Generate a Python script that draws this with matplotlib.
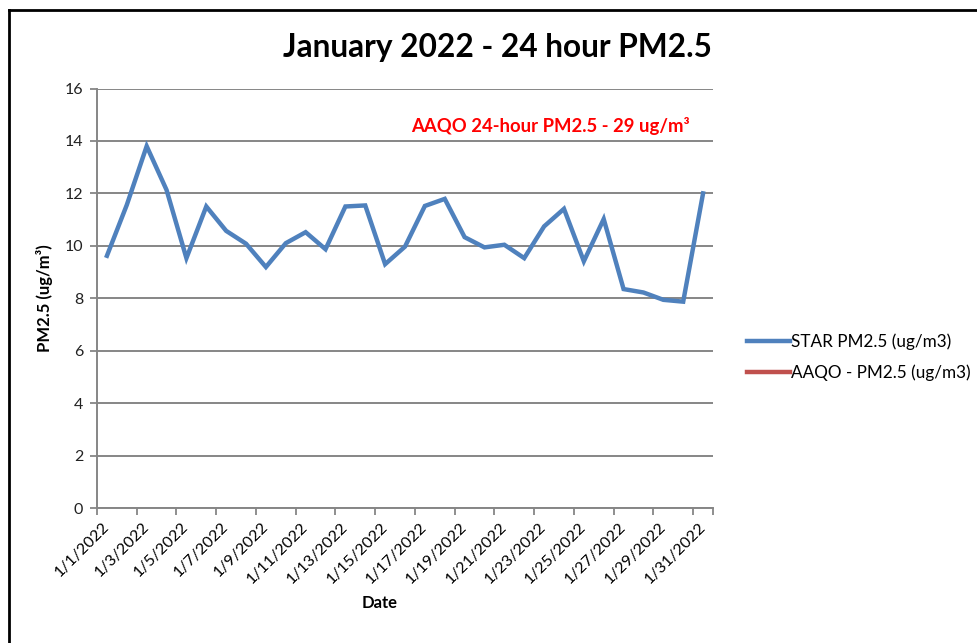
import matplotlib
matplotlib.use("Agg")
import matplotlib.pyplot as plt
from matplotlib.lines import Line2D

plt.rcParams['font.family'] = ['Lato', 'DejaVu Sans']

# data
dates = [f"1/{d}/2022" for d in range(1, 32)]
star_pm25 = [9.62, 11.56, 13.80, 12.13, 9.53, 11.50, 10.57, 10.08, 9.19, 10.10,
             10.52, 9.87, 11.50, 11.54, 9.30, 9.97, 11.52, 11.79, 10.33, 9.94,
             10.04, 9.53, 10.74, 11.41, 9.41, 11.02, 8.35, 8.22, 7.94, 7.87,
             12.00]
aaqo_pm25 = []  # series is listed in the legend but has no points drawn
y_ticks = [0, 2, 4, 6, 8, 10, 12, 14, 16]

blue = '#4F81BD'
red = '#C0504D'
gray = '#868686'

fig = plt.figure(figsize=(9.78, 6.43), dpi=100)
ax = fig.add_axes([97/978, 1 - 508/643, (713 - 97)/978, (508 - 88.5)/643])

x = list(range(len(dates)))
ax.plot(x, star_pm25, color=blue, lw=3.2, solid_joinstyle='miter',
        label='STAR PM2.5 (ug/m3)', zorder=3)
ax.plot(x[:len(aaqo_pm25)], aaqo_pm25, color=red, lw=3.2,
        label='AAQO - PM2.5 (ug/m3)', zorder=3)

ax.set_xlim(-0.5, len(dates) - 0.5)
ax.set_ylim(0, 16)
ax.set_yticks(y_ticks)
ax.yaxis.grid(True, color=gray, lw=1.4)
ax.set_axisbelow(True)

# category labels every second day, tick marks between categories
ax.set_xticks(x[::2])
ax.set_xticklabels(dates[::2], rotation=45, ha='right', va='center',
                   rotation_mode='anchor', fontsize=11.5)
ax.set_xticks([i - 0.5 for i in x[::2]] + [len(dates) - 0.5], minor=True)
ax.tick_params(axis='x', which='major', length=0, pad=12)
ax.tick_params(axis='x', which='minor', length=5, width=1.3, color=gray,
               direction='out')
ax.tick_params(axis='y', length=5, width=1.3, color=gray, labelsize=11.5,
               pad=5, direction='out')
for lab in ax.get_yticklabels():
    lab.set_color('#222222')

for side in ['top', 'right']:
    ax.spines[side].set_visible(False)
for side in ['left', 'bottom']:
    ax.spines[side].set_color(gray)
    ax.spines[side].set_linewidth(1.4)

fig.text(497/978, 1 - 47/643, 'January 2022 - 24 hour PM2.5', ha='center',
         va='center', fontsize=22.8, fontweight='bold')
fig.text(550/978, 1 - 126/643, 'AAQO 24-hour PM2.5 - 29 ug/m³', ha='center',
         va='center', fontsize=13.3, fontweight='bold', color='#FF0000')
fig.text(45/978, 1 - 298/643, 'PM2.5 (ug/m³)', ha='center', va='center',
         rotation=90, fontsize=12, fontweight='bold')
fig.text(380/978, 1 - 603/643, 'Date', ha='center', va='center',
         fontsize=12, fontweight='bold')

fig.legend(loc='center left', bbox_to_anchor=(732/978, 1 - 357/643),
           frameon=False, fontsize=12.3, handlelength=2.5, handletextpad=0.05,
           labelspacing=0.85)

# chart border (cropped on the right and bottom in the reference)
fig.add_artist(Line2D([8.5/978, 8.5/978], [0, 1 - 10/643], color='black',
                      lw=2, transform=fig.transFigure))
fig.add_artist(Line2D([8.5/978, 1], [1 - 10/643, 1 - 10/643], color='black',
                      lw=2, transform=fig.transFigure))

fig.savefig('out.png', dpi=100)
